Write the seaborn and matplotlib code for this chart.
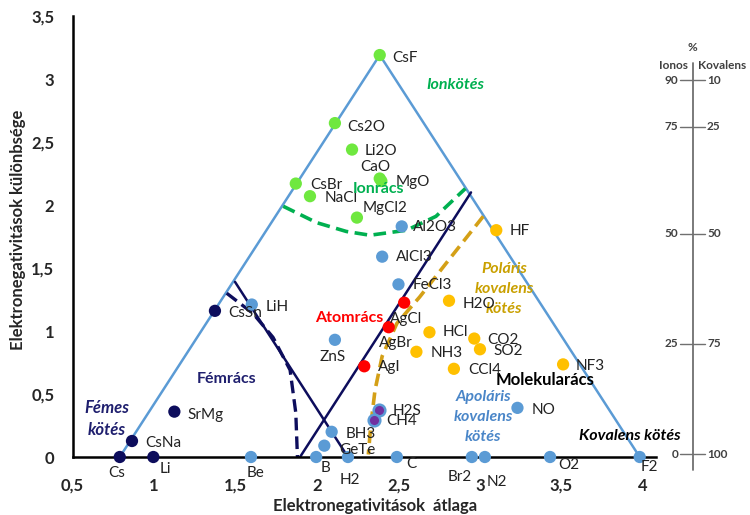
import numpy as np
import pandas as pd
import matplotlib
matplotlib.use("Agg")
import matplotlib.pyplot as plt
import seaborn as sns

# compounds / elements: average electronegativity and electronegativity difference
names = ["CsF", "Cs2O", "Li2O", "CaO", "MgO", "CsBr", "NaCl", "MgCl2",
         "Al2O3", "AlCl3", "FeCl3", "LiH", "ZnS", "BH3", "GeTe", "B", "H2", "C",
         "Be", "Br2", "N2", "O2", "F2", "NO",
         "H2S", "CH4",
         "AgCl", "AgBr", "AgI",
         "HF", "H2O", "HCl", "CO2", "SO2", "NH3", "CCl4", "NF3",
         "CsSn", "SrMg", "CsNa", "Cs", "Li"]
avg = [2.385, 2.11, 2.215, 2.385, 2.395, 1.87, 1.957, 2.245,
       2.52, 2.40, 2.50, 1.60, 2.11, 2.09, 2.045, 1.995, 2.19, 2.49,
       1.595, 2.95, 3.03, 3.43, 3.98, 3.23,
       2.38, 2.35,
       2.535, 2.44, 2.29,
       3.10, 2.81, 2.69, 2.965, 3.00, 2.61, 2.84, 3.51,
       1.374, 1.125, 0.865, 0.79, 0.996]
diff = [3.19, 2.65, 2.44, 2.21, 2.19, 2.17, 2.07, 1.90,
        1.83, 1.59, 1.37, 1.21, 0.93, 0.20, 0.09, 0.0, 0.0, 0.0,
        0.0, 0.0, 0.0, 0.0, 0.0, 0.39,
        0.37, 0.29,
        1.225, 1.03, 0.72,
        1.80, 1.24, 0.99, 0.94, 0.855, 0.835, 0.70, 0.735,
        1.16, 0.36, 0.127, 0.0, 0.0]
kind = (["ion"] * 8 + ["apolar"] * 16 + ["mixed"] * 2 + ["atom"] * 3
        + ["polar"] * 8 + ["metal"] * 5)

# label offsets in pixels (dx, dy, ha)
offsets = {
    "CsF": (13, -3, "left"), "Cs2O": (12, -4, "left"), "Li2O": (13, -1, "left"),
    "CaO": (-4, 12, "center"), "MgO": (14, -1, "left"), "CsBr": (14, -1, "left"),
    "NaCl": (15, -2, "left"), "MgCl2": (6, 10, "left"), "Al2O3": (11, -1, "left"),
    "AlCl3": (14, 0, "left"), "FeCl3": (14, -1, "left"), "LiH": (14, -2, "left"),
    "ZnS": (-2, -17, "center"), "BH3": (14, -2, "left"), "GeTe": (15, -4, "left"),
    "B": (4, -11, "left"), "H2": (2, -23, "center"), "C": (9, -7, "left"),
    "Be": (-4, -16, "left"), "Br2": (-12, -20, "center"), "N2": (2, -25, "left"),
    "O2": (8, -8, "left"), "F2": (1, -10, "left"), "NO": (14, -2, "left"),
    "H2S": (14, -1, "left"), "CH4": (12, -1, "left"),
    "AgCl": (-14, -16, "left"), "AgBr": (-10, -16, "left"), "AgI": (14, -1, "left"),
    "HF": (13, -1, "left"), "H2O": (14, -3, "left"), "HCl": (13, 0, "left"),
    "CO2": (13, -1, "left"), "SO2": (13, -2, "left"), "NH3": (14, -1, "left"),
    "CCl4": (14, -1, "left"), "NF3": (13, -2, "left"),
    "CsSn": (13, -2, "left"), "SrMg": (13, -3, "left"), "CsNa": (13, -2, "left"),
    "Cs": (-3, -16, "center"), "Li": (6, -12, "left"),
}

# outlines of the regions
tri_x = [0.79, 2.385, 3.98]
tri_y = [0.0, 3.19, 0.0]
navy1_x = [1.896, 2.945]
navy1_y = [0.0, 2.10]
navy2_x = [1.497, 2.19]
navy2_y = [1.39, 0.0]
metal_curve_x = [1.446, 1.607, 1.73, 1.835, 1.87, 1.88]
metal_curve_y = [1.30, 1.14, 0.95, 0.69, 0.35, 0.0]
ion_curve_x = [1.793, 1.998, 2.18, 2.325, 2.55, 2.73, 2.91]
ion_curve_y = [1.99, 1.86, 1.79, 1.76, 1.80, 1.91, 2.13]
polar_curve_x = [3.02, 2.80, 2.63, 2.49, 2.40, 2.356, 2.33, 2.315]
polar_curve_y = [1.91, 1.55, 1.27, 1.06, 0.80, 0.53, 0.25, 0.02]

# percent ionic / covalent side scale
scale_ion = ["90", "75", "50", "25", "0"]
scale_cov = ["10", "25", "50", "75", "100"]
scale_y = [2.99, 2.62, 1.77, 0.90, 0.02]

xticks = [0.5, 1, 1.5, 2, 2.5, 3, 3.5, 4]
yticks = [0, 0.5, 1, 1.5, 2, 2.5, 3, 3.5]

palette = {"ion": "#6fe83f", "apolar": "#5b9bd5", "mixed": "#7030a0",
           "atom": "#ff0000", "polar": "#ffc000", "metal": "#0d0d5c"}

df = pd.DataFrame({"name": names, "avg": avg, "diff": diff, "kind": kind})

sns.set_style("white")
plt.rcParams["font.family"] = ["Lato", "DejaVu Sans"]

fig = plt.figure(figsize=(7.5, 5.15), dpi=100)
ax = fig.add_axes([72.5 / 750, 58 / 515, 583.5 / 750, 441 / 515])

ax.plot(tri_x, tri_y, color="#5b9bd5", lw=1.8, zorder=2, clip_on=False)
ax.plot(navy1_x, navy1_y, color="#0d0d5c", lw=1.8, zorder=2)
ax.plot(navy2_x, navy2_y, color="#0d0d5c", lw=1.8, zorder=2)
ax.plot(metal_curve_x, metal_curve_y, color="#0d0d5c", lw=2.4, ls=(0, (3.8, 1.8)), zorder=2)
ax.plot(ion_curve_x, ion_curve_y, color="#00b050", lw=2.6, ls=(0, (3.5, 1.8)), zorder=2)
ax.plot(polar_curve_x, polar_curve_y, color="#d4a017", lw=2.6, ls=(0, (3.5, 1.8)), zorder=2)

main = df[df["kind"] != "mixed"]
sns.scatterplot(data=main, x="avg", y="diff", hue="kind", palette=palette,
                s=78, edgecolor="none", legend=False, ax=ax, zorder=4, clip_on=False)
mixed = df[df["kind"] == "mixed"]
sns.scatterplot(data=mixed, x="avg", y="diff", color=palette["mixed"],
                s=70, edgecolor="#5b9bd5", linewidth=1.8, legend=False, ax=ax, zorder=4)

for n, x, y in zip(names, avg, diff):
    dx, dy, ha = offsets[n]
    ax.annotate(n, (x, y), xytext=(dx, dy), textcoords="offset pixels",
                ha=ha, va="center", fontsize=11, color="#222222",
                zorder=5, annotation_clip=False)

# region labels
ax.text(2.85, 2.95, "Ionkötés", color="#00b050", fontsize=11.5, weight="bold",
        style="italic", ha="center", va="center")
ax.text(2.375, 2.13, "Ionrács", color="#00b050", fontsize=11.5, weight="bold",
        ha="center", va="center", zorder=6)
ax.text(2.20, 1.10, "Atomrács", color="#ff0000", fontsize=11.5, weight="bold",
        ha="center", va="center")
ax.text(1.446, 0.62, "Fémrács", color="#1f1f6e", fontsize=11.5, weight="bold",
        ha="center", va="center")
ax.text(0.71, 0.30, "Fémes\nkötés", color="#1f1f6e", fontsize=12, weight="bold",
        style="italic", ha="center", va="center", linespacing=1.45)
ax.text(3.15, 1.33, "Poláris\nkovalens\nkötés", color="#c9a000", fontsize=11.5,
        weight="bold", style="italic", ha="center", va="center", linespacing=1.55)
ax.text(3.40, 0.61, "Molekularács", color="black", fontsize=12, weight="bold",
        ha="center", va="center")
ax.text(3.02, 0.32, "Apoláris\nkovalens\nkötés", color="#4a86c8", fontsize=11.5,
        weight="bold", style="italic", ha="center", va="center", linespacing=1.55)
ax.text(3.92, 0.17, "Kovalens kötés", color="black", fontsize=11.5, weight="bold",
        style="italic", ha="center", va="center", clip_on=False)

# side scale
sx = 4.305
narrow = ["Liberation Sans Narrow", "Lato", "DejaVu Sans"]
ax.plot([sx, sx], [-0.10, 3.127], color="#707070", lw=1.3, clip_on=False)
for a, b, y in zip(scale_ion, scale_cov, scale_y):
    ax.plot([sx - 0.077, sx + 0.077], [y, y], color="#707070", lw=1.0, clip_on=False)
    ax.text(sx - 0.088, y, a, ha="right", va="center", fontsize=8.5, family=narrow,
            weight="bold", color="#404040", clip_on=False)
    ax.text(sx + 0.088, y, b, ha="left", va="center", fontsize=8.5, family=narrow,
            weight="bold", color="#404040", clip_on=False)
ax.text(sx, 3.25, "%", ha="center", va="center", fontsize=8.5, family=narrow,
        weight="bold", color="#404040")
ax.text(sx - 0.03, 3.11, "Ionos", ha="right", va="center", fontsize=8.5,
        weight="bold", color="#404040")
ax.text(sx + 0.03, 3.11, "Kovalens", ha="left", va="center", fontsize=8.5,
        weight="bold", color="#404040")

ax.set_xlim(0.5, 4.08)
ax.set_ylim(0, 3.5)
ax.set_xticks(xticks)
ax.set_yticks(yticks)
ax.set_xticklabels([("%g" % v).replace(".", ",") for v in xticks], fontsize=12, weight="bold")
ax.set_yticklabels([("%g" % v).replace(".", ",") for v in yticks], fontsize=12, weight="bold")
ax.tick_params(axis="x", length=0, pad=15)
ax.tick_params(axis="y", length=0, pad=13)
ax.set_xlabel("")
ax.set_ylabel("")
for side in ["top", "right"]:
    ax.spines[side].set_visible(False)
for side in ["left", "bottom"]:
    ax.spines[side].set_color("black")
    ax.spines[side].set_linewidth(1.8)
ax.patch.set_alpha(0)

fig.text(375 / 750, 1 - 506 / 515, "Elektronegativitások  átlaga", ha="center",
         va="center", fontsize=12, weight="bold")
fig.text(18 / 750, 1 - 230 / 515, "Elektronegativitások különbsége", ha="center",
         va="center", rotation=90, fontsize=12, weight="bold")

fig.savefig("out.png", dpi=100)
